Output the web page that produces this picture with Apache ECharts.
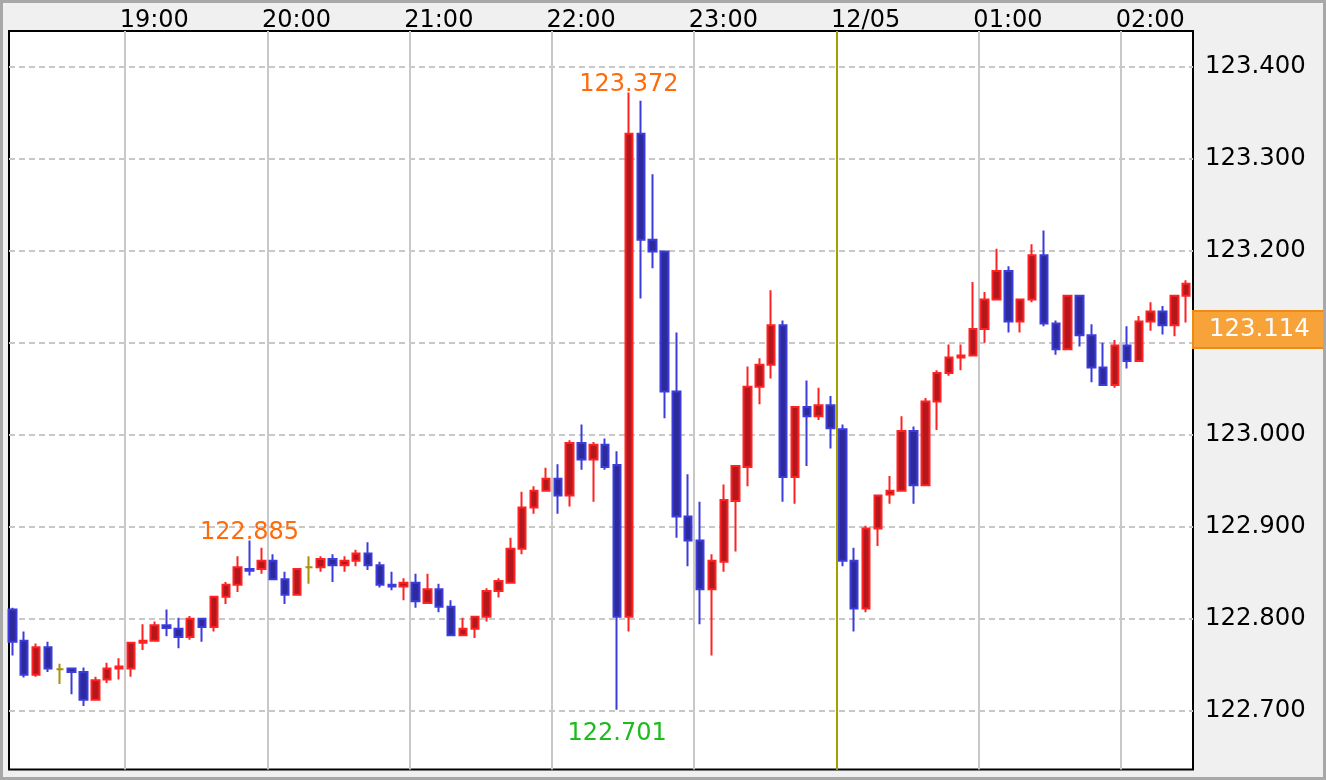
<!DOCTYPE html>
<html><head><meta charset="utf-8">
<script src="https://cdn.jsdelivr.net/npm/echarts@6/dist/echarts.min.js"></script>
<style>html,body{margin:0;padding:0;background:#f0f0f0;}#c{width:1326px;height:780px;}</style>
</head><body><div id="c"></div>
<script>
// ---- data ----
const times = ['18:10','18:15','18:20','18:25','18:30','18:35','18:40','18:45','18:50','18:55',
'19:00','19:05','19:10','19:15','19:20','19:25','19:30','19:35','19:40','19:45','19:50','19:55',
'20:00','20:05','20:10','20:15','20:20','20:25','20:30','20:35','20:40','20:45','20:50','20:55',
'21:00','21:05','21:10','21:15','21:20','21:25','21:30','21:35','21:40','21:45','21:50','21:55',
'22:00','22:05','22:10','22:15','22:20','22:25','22:30','22:35','22:40','22:45','22:50','22:55',
'23:00','23:05','23:10','23:15','23:20','23:25','23:30','23:35','23:40','23:45','23:50','23:55',
'00:00','00:05','00:10','00:15','00:20','00:25','00:30','00:35','00:40','00:45','00:50','00:55',
'01:00','01:05','01:10','01:15','01:20','01:25','01:30','01:35','01:40','01:45','01:50','01:55',
'02:00','02:05','02:10','02:15','02:20','02:25'];
const opens = [122.810,122.776,122.739,122.769,122.745,122.746,122.742,122.712,122.734,122.746,
122.746,122.774,122.776,122.793,122.789,122.780,122.800,122.791,122.824,122.837,122.854,122.854,
122.863,122.843,122.826,122.856,122.856,122.865,122.858,122.863,122.871,122.858,122.837,122.835,
122.839,122.817,122.832,122.813,122.782,122.789,122.802,122.830,122.839,122.876,122.921,122.939,
122.952,122.934,122.991,122.973,122.989,122.967,122.802,123.327,123.212,123.199,123.047,122.911,
122.885,122.832,122.862,122.928,122.965,123.052,123.076,123.119,122.954,123.030,123.020,123.032,
123.006,122.863,122.811,122.898,122.935,122.939,123.004,122.945,123.036,123.067,123.084,123.086,
123.115,123.147,123.178,123.123,123.147,123.195,123.121,123.093,123.151,123.108,123.073,123.054,
123.097,123.080,123.123,123.134,123.119,123.151];
const closes = [122.775,122.739,122.769,122.746,122.745,122.742,122.712,122.733,122.746,122.748,
122.774,122.776,122.793,122.790,122.780,122.800,122.791,122.824,122.837,122.856,122.852,122.863,
122.843,122.826,122.854,122.856,122.865,122.858,122.863,122.871,122.858,122.837,122.835,122.839,
122.819,122.832,122.813,122.782,122.789,122.802,122.830,122.841,122.876,122.921,122.939,122.952,
122.934,122.991,122.973,122.989,122.965,122.802,123.327,123.212,123.199,123.047,122.911,122.885,
122.832,122.863,122.929,122.966,123.052,123.076,123.119,122.954,123.030,123.020,123.032,123.007,
122.863,122.811,122.898,122.934,122.939,123.004,122.945,123.036,123.067,123.084,123.086,123.115,
123.147,123.178,123.123,123.147,123.195,123.121,123.093,123.151,123.108,123.073,123.054,123.097,
123.080,123.123,123.134,123.119,123.151,123.164];
const lows = [122.760,122.736,122.737,122.742,122.729,122.718,122.705,122.711,122.730,122.734,
122.737,122.766,122.776,122.781,122.768,122.777,122.775,122.786,122.816,122.829,122.847,122.849,
122.842,122.816,122.825,122.838,122.851,122.840,122.851,122.857,122.853,122.834,122.831,122.820,
122.812,122.816,122.807,122.781,122.781,122.779,122.797,122.823,122.838,122.870,122.914,122.938,
122.914,122.922,122.962,122.927,122.962,122.701,122.786,123.148,123.181,123.018,122.888,122.857,
122.794,122.760,122.851,122.873,122.944,123.033,123.061,122.927,122.925,122.966,123.016,122.985,
122.857,122.786,122.807,122.879,122.925,122.938,122.925,122.944,123.005,123.064,123.070,123.085,
123.100,123.146,123.111,123.111,123.144,123.118,123.087,123.092,123.096,123.057,123.053,123.051,
123.072,123.079,123.113,123.109,123.107,123.122];
const highs = [122.812,122.786,122.773,122.775,122.751,122.747,122.747,122.737,122.752,122.757,
122.775,122.794,122.797,122.810,122.801,122.803,122.801,122.825,122.840,122.868,122.885,122.877,
122.870,122.851,122.855,122.868,122.868,122.870,122.868,122.875,122.883,122.862,122.851,122.844,
122.849,122.849,122.838,122.820,122.801,122.803,122.833,122.844,122.888,122.938,122.944,122.964,
122.968,122.994,123.011,122.992,122.996,122.982,123.372,123.363,123.283,123.200,123.111,122.957,
122.927,122.870,122.946,122.967,123.074,123.083,123.157,123.124,123.031,123.059,123.051,123.042,
123.011,122.877,122.901,122.935,122.955,123.020,123.009,123.040,123.070,123.098,123.098,123.166,
123.155,123.202,123.183,123.148,123.207,123.222,123.124,123.152,123.152,123.120,123.100,123.103,
123.118,123.129,123.144,123.140,123.152,123.168];
const priceTicks = [122.7, 122.8, 122.9, 123.0, 123.1, 123.2, 123.3, 123.4];
const hourTimes = ['19:00','20:00','21:00','22:00','23:00','00:00','01:00','02:00'];
const hourLabels = ['19:00','20:00','21:00','22:00','23:00','12/05','01:00','02:00'];
const dayBreakTime = '00:00';
const lastPrice = 123.114;
const labeledHighTimes = ['22:30', '19:50'];
const labeledLowTimes = ['22:25'];

// ---- helpers ----
const FONT = 'DejaVu Sans';
function toSlot(t) { // 5-minute slots since 18:00
  const [h, m] = t.split(':').map(Number);
  return (((h - 18 + 24) % 24) * 60 + m) / 5;
}
const candleData = times.map((t, i) => {
  const item = { value: [toSlot(t) + 0.5, opens[i], closes[i], lows[i], highs[i]] };
  if (opens[i] === closes[i]) item.itemStyle = { borderColor: '#a8900a', borderColor0: '#a8900a' };
  return item;
});
const hourSlots = hourTimes.map(toSlot);
const labelShift = 0.45;
const labelSlots = hourSlots.map(s => s - labelShift);
function hourLabel(v) {
  let best = 0;
  hourSlots.forEach((s, i) => { if (Math.abs(s - v) < Math.abs(hourSlots[best] - v)) best = i; });
  return hourLabels[best];
}
const highPoints = labeledHighTimes.map(t => {
  const i = times.indexOf(t);
  return { coord: [toSlot(t) + 0.5, highs[i]], value: highs[i] };
});
const lowPoints = labeledLowTimes.map(t => {
  const i = times.indexOf(t);
  return { coord: [toSlot(t) + 0.5, lows[i]], value: lows[i],
    label: { position: 'bottom', distance: 11, offset: [0, 0], color: '#1dbb1d' } };
});

const chart = echarts.init(document.getElementById('c'), null, { renderer: 'canvas' });
chart.setOption({
  animation: false,
  backgroundColor: '#f0f0f0',
  graphic: [{
    type: 'rect', shape: { x: 1.5, y: 1.5, width: 1323, height: 777 },
    style: { fill: 'none', stroke: '#a8a8a8', lineWidth: 3 }, z: 100, silent: true
  }],
  grid: { left: 9, top: 31, right: 133, bottom: 10.5, show: true,
    backgroundColor: '#ffffff', borderColor: '#000000', borderWidth: 2 },
  xAxis: {
    type: 'value', position: 'top', min: 2.2166, max: 102.074,
    axisLine: { show: false },
    axisTick: { show: false, customValues: hourSlots },
    axisLabel: { customValues: labelSlots, formatter: hourLabel, align: 'left',
      margin: -2, color: '#000', fontSize: 24, lineHeight: 24, fontFamily: FONT },
    splitLine: { show: true, lineStyle: { color: '#c8c8c8', width: 2, type: 'solid' } }
  },
  yAxis: {
    type: 'value', position: 'right', min: 122.6361, max: 123.4388, scale: true,
    axisLine: { show: false },
    axisTick: { show: false, customValues: priceTicks },
    axisLabel: { customValues: priceTicks, formatter: v => v.toFixed(3), margin: 12,
      color: '#000', fontSize: 24.4, lineHeight: 24, fontFamily: FONT },
    splitLine: { show: true, lineStyle: { color: '#c8c8c8', width: 2, type: [6, 4] } }
  },
  series: [{
    type: 'candlestick',
    data: candleData,
    barWidth: 8,
    itemStyle: {
      color: '#b5171c', color0: '#2c2a9c',
      borderColor: '#ff2222', borderColor0: '#3c3cdc', borderColorDoji: '#a8900a',
      borderWidth: 2
    },
    markPoint: {
      symbol: 'circle', symbolSize: 1, itemStyle: { color: 'rgba(0,0,0,0)' },
      label: { show: true, position: 'top', distance: 0, offset: [0, 5], color: '#ff6a0a',
        fontSize: 24, lineHeight: 24, fontFamily: FONT,
        formatter: p => Number(p.value).toFixed(3) },
      data: highPoints.concat(lowPoints)
    },
    markLine: {
      symbol: ['none', 'none'], silent: true, animation: false,
      data: [
        { xAxis: toSlot(dayBreakTime), lineStyle: { color: '#a4a000', width: 2, type: 'solid' },
          label: { show: false } },
        { yAxis: lastPrice, lineStyle: { color: 'rgba(0,0,0,0)', width: 1, type: 'solid' },
          label: { show: true, position: 'end', distance: 1, offset: [0, -4], formatter: lastPrice.toFixed(3),
            color: '#ffffff', fontSize: 24.4, lineHeight: 24, fontFamily: FONT,
            backgroundColor: '#f8a23a', borderColor: '#ee8a12', borderWidth: 2,
            padding: [6, 14, 5, 15] } }
      ]
    }
  }]
});
</script>
</body></html>
